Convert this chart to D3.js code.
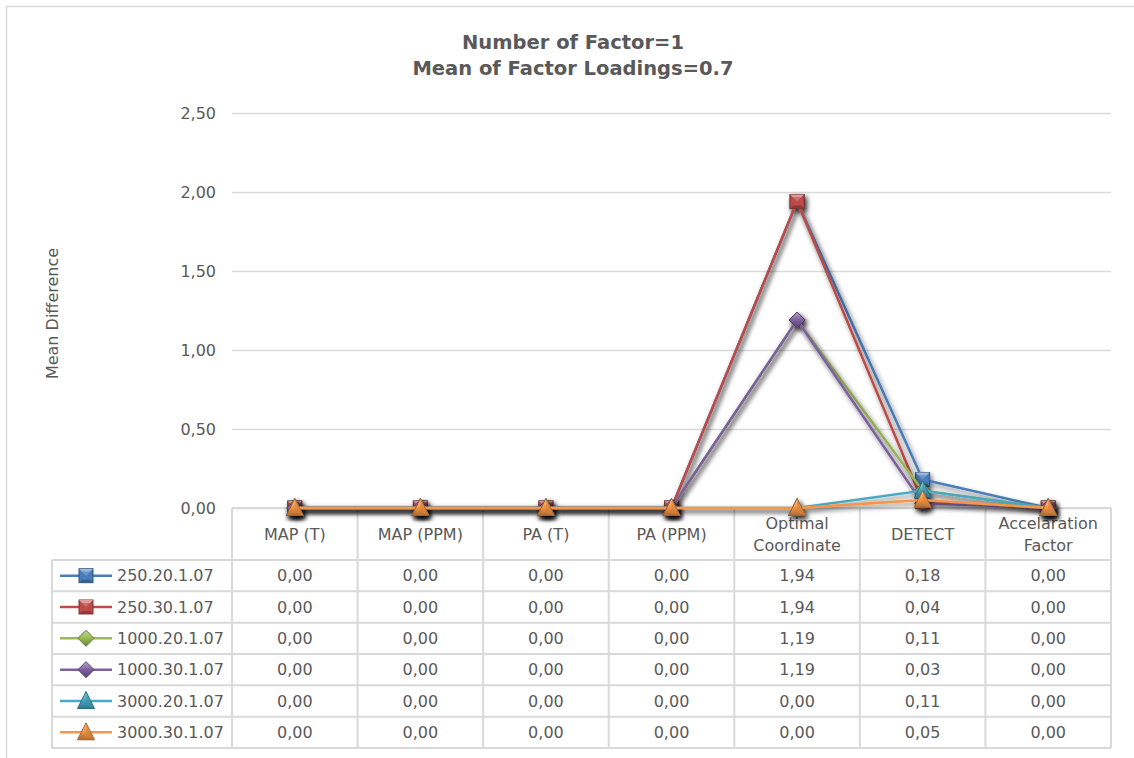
<!DOCTYPE html>
<html>
<head>
<meta charset="utf-8">
<script src="https://cdn.jsdelivr.net/npm/d3@7"></script>
<style>
  html, body { margin: 0; padding: 0; background: #ffffff; }
  svg { display: block; }
  text { font-family: "DejaVu Sans", Verdana, sans-serif; fill: #595959; }
</style>
</head>
<body>
<svg id="chart" width="1134" height="758"></svg>
<script>
// ---- data ----
const titleLines = ["Number of Factor=1", "Mean of Factor Loadings=0.7"];
const yAxisTitle = "Mean Difference";
const categories = ["MAP (T)", "MAP (PPM)", "PA (T)", "PA (PPM)", "Optimal Coordinate", "DETECT", "Accelaration Factor"];
const seriesNames = ["250.20.1.07", "250.30.1.07", "1000.20.1.07", "1000.30.1.07", "3000.20.1.07", "3000.30.1.07"];
const s250_20 = [0, 0, 0, 0, 1.94, 0.18, 0];
const s250_30 = [0, 0, 0, 0, 1.94, 0.04, 0];
const s1000_20 = [0, 0, 0, 0, 1.19, 0.11, 0];
const s1000_30 = [0, 0, 0, 0, 1.19, 0.03, 0];
const s3000_20 = [0, 0, 0, 0, 0, 0.11, 0];
const s3000_30 = [0, 0, 0, 0, 0, 0.05, 0];
const seriesValues = [s250_20, s250_30, s1000_20, s1000_30, s3000_20, s3000_30];
const yTicks = [0, 0.5, 1, 1.5, 2, 2.5];

// ---- styles ----
const colors = ["#4A7EBB", "#BE4B48", "#98B954", "#7D60A0", "#46AAC5", "#F79646"];
const shapes = ["square", "square", "diamond", "diamond", "triangle", "triangle"];
const textColor = "#595959";
const gridColor = "#d9d9d9";

const svg = d3.select("#chart");
const W = 1134, H = 758;

const plot = { left: 232, right: 1111, top: 113, bottom: 508 };
const table = { legendLeft: 52, headerBottom: 560, rowH: 31.33 };

const fmt = v => d3.format(".2f")(v).replace(".", ",");

// outer chart border
svg.append("rect")
  .attr("x", 6.5).attr("y", 6.5).attr("width", W + 20).attr("height", H + 20)
  .attr("fill", "#fff").attr("stroke", gridColor).attr("stroke-width", 1.5);

// ---- defs: shadow + marker gradients ----
const defs = svg.append("defs");
const shadow = defs.append("filter").attr("id", "shadow")
  .attr("x", "-20%").attr("y", "-20%").attr("width", "140%").attr("height", "140%");
shadow.append("feDropShadow")
  .attr("dx", 2).attr("dy", 3).attr("stdDeviation", 2.5)
  .attr("flood-color", "#000").attr("flood-opacity", 0.55);

colors.forEach((c, i) => {
  const g = defs.append("linearGradient").attr("id", "grad" + i)
    .attr("x1", 0).attr("y1", 0).attr("x2", 0).attr("y2", 1);
  g.append("stop").attr("offset", "0%").attr("stop-color", d3.interpolateRgb(c, "#fff")(0.45));
  g.append("stop").attr("offset", "50%").attr("stop-color", c);
  g.append("stop").attr("offset", "100%").attr("stop-color", d3.interpolateRgb(c, "#000")(0.3));
});

// ---- scales ----
const x = d3.scaleBand().domain(categories).range([plot.left, plot.right]).padding(0);
const y = d3.scaleLinear().domain([0, 2.5]).range([plot.bottom, plot.top]);
const cx = c => x(c) + x.bandwidth() / 2;

// ---- title ----
svg.append("text")
  .attr("x", 573).attr("y", 49)
  .attr("text-anchor", "middle")
  .style("font-size", "19.5px").style("font-weight", "bold")
  .selectAll("tspan").data(titleLines).join("tspan")
  .attr("x", 573).attr("dy", (d, i) => i === 0 ? 0 : 26)
  .text(d => d);

// ---- gridlines + y axis ----
const yAxis = d3.axisLeft(y).tickValues(yTicks).tickFormat(fmt)
  .tickSize(-(plot.right - plot.left)).tickPadding(16);
const gy = svg.append("g").attr("transform", `translate(${plot.left},0)`).call(yAxis);
gy.select(".domain").remove();
gy.selectAll(".tick line").attr("stroke", gridColor).attr("stroke-width", 1.5);
gy.selectAll(".tick text").attr("fill", textColor)
  .style("font-size", "16px").attr("dy", "0.35em");

svg.append("text")
  .attr("transform", `translate(58,${(plot.top + plot.bottom) / 2 + 3}) rotate(-90)`)
  .attr("text-anchor", "middle")
  .style("font-size", "16px")
  .text(yAxisTitle);

// ---- data table ----
const tbl = svg.append("g");
const nRows = seriesNames.length;
const tableBottom = table.headerBottom + nRows * table.rowH;
const lineAttrs = sel => sel.attr("stroke", gridColor).attr("stroke-width", 2).attr("fill", "none");

// horizontal lines
tbl.append("line").attr("x1", plot.left).attr("x2", plot.right)
  .attr("y1", plot.bottom).attr("y2", plot.bottom).call(lineAttrs);
d3.range(nRows + 1).forEach(r => {
  const yy = table.headerBottom + r * table.rowH;
  tbl.append("line").attr("x1", table.legendLeft).attr("x2", plot.right)
    .attr("y1", yy).attr("y2", yy).call(lineAttrs);
});
// vertical lines
tbl.append("line").attr("x1", table.legendLeft).attr("x2", table.legendLeft)
  .attr("y1", table.headerBottom).attr("y2", tableBottom).call(lineAttrs);
categories.forEach(c => {
  tbl.append("line").attr("x1", x(c)).attr("x2", x(c))
    .attr("y1", plot.bottom).attr("y2", tableBottom).call(lineAttrs);
});
tbl.append("line").attr("x1", plot.right).attr("x2", plot.right)
  .attr("y1", plot.bottom).attr("y2", tableBottom).call(lineAttrs);

// category headers (wrapped to the column width)
const measure = svg.append("text").style("font-size", "16px").attr("visibility", "hidden");
function wrapLines(str, maxW) {
  const words = str.split(" ");
  const lines = [];
  let cur = "";
  words.forEach(w => {
    const test = cur ? cur + " " + w : w;
    measure.text(test);
    if (cur && measure.node().getComputedTextLength() > maxW) { lines.push(cur); cur = w; }
    else cur = test;
  });
  lines.push(cur);
  return lines;
}
categories.forEach(c => {
  const lines = wrapLines(c, x.bandwidth() - 10);
  const midY = (plot.bottom + table.headerBottom) / 2;
  const lh = 22.5;
  const t = svg.append("text").attr("text-anchor", "middle").style("font-size", "16px");
  lines.forEach((ln, i) => {
    t.append("tspan").attr("x", cx(c))
      .attr("y", midY + (i - (lines.length - 1) / 2) * lh)
      .attr("dy", "0.36em").text(ln);
  });
});
measure.remove();

// table values
seriesValues.forEach((vals, si) => {
  const rowMid = table.headerBottom + (si + 0.5) * table.rowH;
  vals.forEach((v, ci) => {
    svg.append("text").attr("x", cx(categories[ci])).attr("y", rowMid)
      .attr("dy", "0.36em").attr("text-anchor", "middle")
      .style("font-size", "16px").text(fmt(v));
  });
});

// ---- marker drawing ----
function drawMarker(g, shape, i, px, py) {
  const c = colors[i];
  const dark = d3.interpolateRgb(c, "#000")(0.35);
  const light = d3.interpolateRgb(c, "#fff")(0.45);
  const m = g.append("g").attr("transform", `translate(${px},${py})`);
  if (shape === "square") {
    const s = 7;
    m.append("rect").attr("x", -s).attr("y", -s).attr("width", 2 * s).attr("height", 2 * s)
      .attr("fill", c).attr("stroke", dark).attr("stroke-width", 1);
    // bevel facets
    m.append("path").attr("d", `M${-s},${-s}L${s},${-s}L${s - 3},${-s + 3}L${-s + 3},${-s + 3}Z`).attr("fill", light);
    m.append("path").attr("d", `M${-s + 3},${-s + 3}L${s - 3},${-s + 3}L0,0Z`).attr("fill", d3.interpolateRgb(c, "#fff")(0.2));
    m.append("path").attr("d", `M${-s},${s}L${s},${s}L${s - 3},${s - 3}L${-s + 3},${s - 3}Z`).attr("fill", d3.interpolateRgb(c, "#000")(0.25));
  } else if (shape === "diamond") {
    const s = 8;
    m.append("path").attr("d", `M0,${-s}L${s},0L0,${s}L${-s},0Z`)
      .attr("fill", `url(#grad${i})`).attr("stroke", dark).attr("stroke-width", 1);
  } else {
    const s = 8.5;
    m.append("path").attr("d", `M0,${-s - 1}L${s},${s - 1}L${-s},${s - 1}Z`)
      .attr("fill", `url(#grad${i})`).attr("stroke", dark).attr("stroke-width", 1);
    m.append("path").attr("d", `M0,${-s - 1}L${s},${s - 1}L0,${s - 4}Z`)
      .attr("fill", d3.interpolateRgb(c, "#000")(0.15)).attr("opacity", 0.6);
  }
}

// ---- series lines + markers ----
const line = d3.line().x((d, i) => cx(categories[i])).y(d => y(d));
const series = svg.append("g");
seriesValues.forEach((vals, i) => {
  const g = series.append("g").attr("filter", "url(#shadow)");
  g.append("path").datum(vals).attr("d", line)
    .attr("fill", "none").attr("stroke", colors[i]).attr("stroke-width", 2.5)
    .attr("stroke-linejoin", "round");
  vals.forEach((v, ci) => drawMarker(g, shapes[i], i, cx(categories[ci]), y(v)));
});

// ---- legend keys inside the table ----
seriesNames.forEach((name, i) => {
  const rowMid = table.headerBottom + (i + 0.5) * table.rowH;
  const g = svg.append("g");
  g.append("line").attr("x1", 60).attr("x2", 112).attr("y1", rowMid).attr("y2", rowMid)
    .attr("stroke", colors[i]).attr("stroke-width", 2.5);
  drawMarker(g, shapes[i], i, 86, rowMid);
  svg.append("text").attr("x", 117).attr("y", rowMid).attr("dy", "0.36em")
    .style("font-size", "16px").text(name);
});
</script>
</body>
</html>
